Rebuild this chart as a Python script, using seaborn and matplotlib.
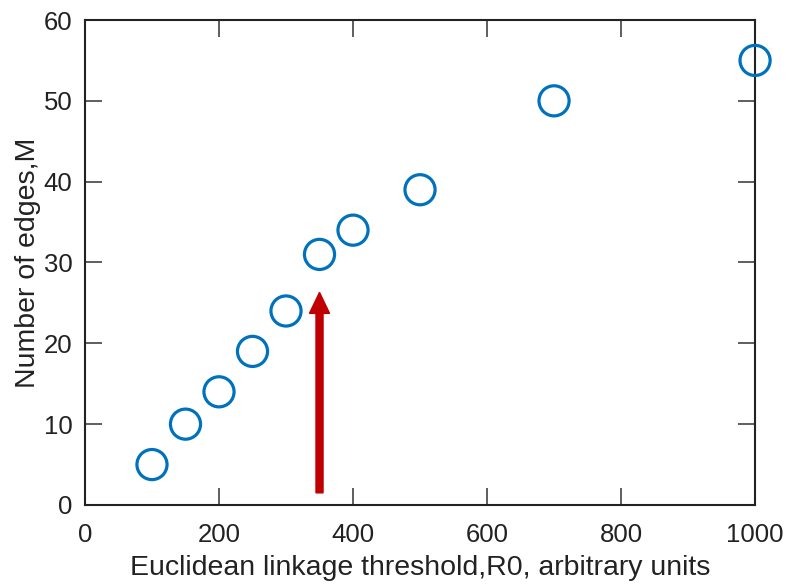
import matplotlib
matplotlib.use("Agg")
import matplotlib.pyplot as plt
import seaborn as sns
import pandas as pd

threshold = [100, 150, 200, 250, 300, 350, 400, 500, 700, 1000]
edges = [5, 10, 14, 19, 24, 31, 34, 39, 50, 55]
arrow_x = 350
arrow_y_start = 1.5
arrow_y_end = 26.3
xticks = [0, 200, 400, 600, 800, 1000]
yticks = [0, 10, 20, 30, 40, 50, 60]

sns.set_theme(style="white")
plt.rcParams['font.family'] = ['Liberation Sans', 'DejaVu Sans']

df = pd.DataFrame({"R0": threshold, "M": edges})
fig = plt.figure(figsize=(7.89, 5.85), dpi=100)
ax = fig.add_axes([0.1077, 0.1368, 0.8493, 0.829])

blue = "#0072BD"
sns.scatterplot(data=df, x="R0", y="M", ax=ax, marker="o", s=470,
                facecolors="none", edgecolor=blue, linewidth=2.3, clip_on=False, zorder=5)
coll = ax.collections[0]
coll.set_facecolor("none")
coll.set_edgecolor(blue)
coll.set_linewidth(2.3)
coll.set_clip_on(False)

ax.arrow(arrow_x, arrow_y_start, 0, arrow_y_end - arrow_y_start, width=10.5,
         head_width=30, head_length=2.6, length_includes_head=True,
         color="#C00000", zorder=4)

ax.set_xlim(0, 1000)
ax.set_ylim(0, 60)
ax.set_xticks(xticks)
ax.set_yticks(yticks)
for s in ax.spines.values():
    s.set_visible(True)
    s.set_color("#222222")
    s.set_linewidth(1.5)
ax.tick_params(direction="in", length=12, width=1.1, color="#333333",
               top=True, right=True, bottom=True, left=True,
               labelsize=18.5, labelcolor="#222222")
ax.tick_params(axis="x", pad=13)
ax.tick_params(axis="y", pad=9)
ax.set_xlabel("Euclidean linkage threshold,R0, arbitrary units", fontsize=20.5, color="#222222", labelpad=6)
ax.set_ylabel("Number of edges,M", fontsize=20.5, color="#222222", labelpad=2)

fig.savefig("out.png", dpi=100)
